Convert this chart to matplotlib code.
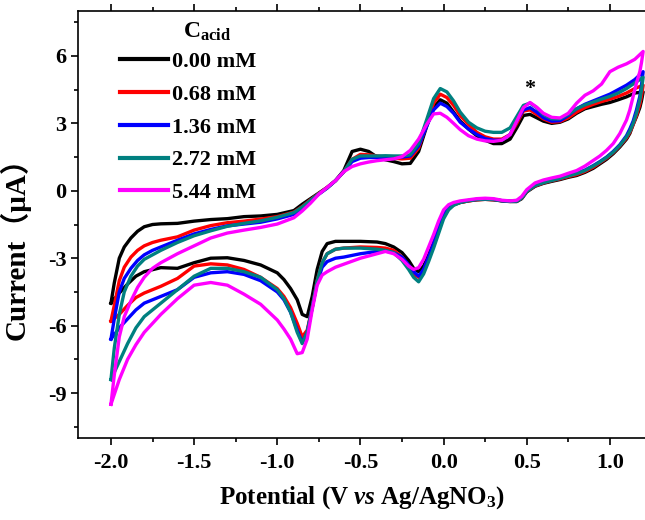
import matplotlib
matplotlib.use('Agg')
import matplotlib.pyplot as plt
from matplotlib.ticker import MultipleLocator
from matplotlib.lines import Line2D

plt.rcParams['font.family'] = ['Liberation Serif', 'DejaVu Serif']
plt.rcParams['font.weight'] = 'bold'
plt.rcParams['mathtext.fontset'] = 'custom'
plt.rcParams['mathtext.rm'] = 'Liberation Serif:bold'
plt.rcParams['mathtext.it'] = 'Liberation Serif:italic:bold'
plt.rcParams['mathtext.bf'] = 'Liberation Serif:bold'

# ---------------- data ----------------
labels = ['0.00 mM', '0.68 mM', '1.36 mM', '2.72 mM', '5.44 mM']
colors = ['#000000', '#ff0000', '#0000ff', '#008080', '#ff00ff']

# forward (anodic) sweep potentials, V
fwd_v = [-2.00, -1.98, -1.95, -1.92, -1.88, -1.84, -1.80, -1.75, -1.70, -1.60,
         -1.50, -1.40, -1.30, -1.20, -1.10, -1.00, -0.90, -0.85, -0.80, -0.75,
         -0.70, -0.65, -0.60, -0.55, -0.50, -0.45, -0.40, -0.35, -0.30, -0.25,
         -0.20, -0.15, -0.10, -0.06, -0.02, 0.02, 0.06, 0.10, 0.15, 0.20,
         0.25, 0.30, 0.35, 0.40, 0.44, 0.48, 0.52, 0.56, 0.60, 0.65,
         0.70, 0.75, 0.80, 0.85, 0.90, 0.95, 1.00, 1.05, 1.10, 1.15, 1.20]

fwd_000 = [-5.0, -4.1, -3.0, -2.5, -2.1, -1.8, -1.6, -1.5, -1.47, -1.45,
           -1.35, -1.28, -1.24, -1.15, -1.12, -1.05, -0.88, -0.6, -0.35, -0.1,
           0.15, 0.45, 0.9, 1.75, 1.85, 1.75, 1.5, 1.38, 1.3, 1.2,
           1.22, 1.75, 2.9, 3.7, 4.05, 3.9, 3.5, 3.1, 2.75, 2.45,
           2.25, 2.1, 2.1, 2.3, 2.8, 3.35, 3.4, 3.25, 3.1, 3.0,
           3.05, 3.2, 3.45, 3.65, 3.75, 3.85, 3.93, 4.05, 4.18, 4.35, 4.4]
fwd_068 = [-5.8, -5.1, -4.0, -3.4, -2.95, -2.65, -2.45, -2.3, -2.2, -2.05,
           -1.75, -1.55, -1.42, -1.35, -1.26, -1.15, -0.95, -0.7, -0.4, -0.12,
           0.15, 0.45, 0.85, 1.4, 1.62, 1.6, 1.55, 1.5, 1.45, 1.42,
           1.45, 1.9, 3.0, 3.9, 4.3, 4.15, 3.8, 3.35, 2.95, 2.6,
           2.4, 2.3, 2.3, 2.5, 3.0, 3.55, 3.6, 3.4, 3.2, 3.05,
           3.08, 3.25, 3.5, 3.7, 3.85, 3.97, 4.08, 4.2, 4.35, 4.55, 4.7]
fwd_136 = [-6.6, -5.7, -4.5, -3.9, -3.45, -3.1, -2.85, -2.65, -2.5, -2.2,
           -1.92, -1.72, -1.56, -1.48, -1.4, -1.25, -1.05, -0.8, -0.45, -0.15,
           0.12, 0.45, 0.85, 1.3, 1.45, 1.48, 1.48, 1.5, 1.5, 1.5,
           1.55, 2.0, 2.9, 3.6, 3.9, 3.75, 3.45, 3.05, 2.75, 2.5,
           2.32, 2.25, 2.25, 2.5, 3.1, 3.6, 3.7, 3.5, 3.25, 3.1,
           3.12, 3.35, 3.65, 3.85, 4.0, 4.15, 4.3, 4.5, 4.7, 4.95, 5.3]
fwd_272 = [-8.4, -7.0, -5.5, -4.5, -3.8, -3.35, -3.05, -2.85, -2.65, -2.3,
           -2.0, -1.78, -1.58, -1.45, -1.34, -1.18, -0.97, -0.72, -0.42, -0.13,
           0.13, 0.45, 0.85, 1.4, 1.55, 1.55, 1.55, 1.56, 1.55, 1.55,
           1.6, 2.1, 3.2, 4.1, 4.55, 4.4, 4.0, 3.5, 3.05, 2.8,
           2.65, 2.6, 2.6, 2.8, 3.3, 3.8, 3.9, 3.7, 3.4, 3.2,
           3.2, 3.4, 3.65, 3.82, 3.95, 4.08, 4.2, 4.35, 4.55, 4.8, 5.05]
fwd_544 = [-9.5, -8.2, -6.5, -5.6, -4.9, -4.3, -3.85, -3.45, -3.2, -2.8,
           -2.45, -2.1, -1.88, -1.75, -1.63, -1.48, -1.2, -0.9, -0.55, -0.15,
           0.15, 0.45, 0.85, 1.08, 1.2, 1.28, 1.34, 1.38, 1.42, 1.52,
           1.8, 2.3, 2.97, 3.42, 3.45, 3.27, 3.0, 2.72, 2.45, 2.3,
           2.22, 2.2, 2.25, 2.5, 3.1, 3.7, 3.93, 3.72, 3.45, 3.27,
           3.24, 3.45, 3.9, 4.25, 4.45, 4.75, 5.3, 5.5, 5.65, 5.85, 6.2]

# reverse (cathodic) sweep potentials, V
rev_v = [1.20, 1.19, 1.18, 1.16, 1.14, 1.12, 1.10, 1.06, 1.02, 0.98,
         0.94, 0.90, 0.85, 0.80, 0.75, 0.70, 0.65, 0.60, 0.55, 0.50,
         0.47, 0.44, 0.40, 0.35, 0.30, 0.25, 0.20, 0.15, 0.10, 0.06,
         0.03, 0.00, -0.03, -0.06, -0.09, -0.12, -0.15, -0.18, -0.21, -0.25,
         -0.30, -0.35, -0.40, -0.50, -0.60, -0.65, -0.70, -0.73, -0.76, -0.79,
         -0.82, -0.85, -0.88, -0.92, -0.96, -1.00, -1.10, -1.20, -1.30, -1.40,
         -1.50, -1.60, -1.70, -1.80, -1.85, -1.90, -1.95, -2.00]

rev_000 = [4.4, 4.0, 3.7, 3.3, 2.95, 2.55, 2.3, 1.95, 1.65, 1.4,
           1.2, 1.0, 0.82, 0.68, 0.6, 0.5, 0.42, 0.33, 0.2, -0.05,
           -0.35, -0.48, -0.48, -0.45, -0.4, -0.38, -0.4, -0.45, -0.52, -0.62,
           -0.8, -1.1, -1.7, -2.3, -2.85, -3.35, -3.6, -3.45, -3.1, -2.75,
           -2.5, -2.35, -2.28, -2.25, -2.25, -2.25, -2.35, -2.7, -3.5, -4.7,
           -5.6, -5.5, -4.85, -4.35, -3.95, -3.65, -3.3, -3.1, -2.98, -3.0,
           -3.2, -3.45, -3.42, -3.6, -3.8, -4.15, -4.55, -5.0]
rev_068 = [4.7, 4.2, 3.85, 3.35, 2.95, 2.6, 2.35, 2.0, 1.7, 1.45,
           1.25, 1.05, 0.86, 0.72, 0.63, 0.53, 0.45, 0.35, 0.22, -0.02,
           -0.32, -0.46, -0.47, -0.44, -0.4, -0.38, -0.4, -0.45, -0.52, -0.62,
           -0.82, -1.15, -1.8, -2.45, -3.0, -3.55, -3.85, -3.7, -3.35, -2.95,
           -2.65, -2.55, -2.52, -2.5, -2.55, -2.6, -2.8, -3.2, -4.0, -5.2,
           -6.2, -6.5, -5.9, -5.2, -4.7, -4.35, -3.85, -3.5, -3.3, -3.25,
           -3.35, -3.9, -4.25, -4.55, -4.75, -5.1, -5.5, -5.8]
rev_136 = [5.3, 4.7, 4.2, 3.6, 3.1, 2.75, 2.45, 2.05, 1.75, 1.5,
           1.3, 1.12, 0.92, 0.78, 0.68, 0.57, 0.48, 0.38, 0.25, 0.0,
           -0.3, -0.45, -0.47, -0.44, -0.38, -0.36, -0.38, -0.43, -0.5, -0.6,
           -0.78, -1.1, -1.7, -2.35, -2.95, -3.5, -3.8, -3.6, -3.3, -2.95,
           -2.75, -2.68, -2.7, -2.8, -2.95, -3.0, -3.15, -3.4, -4.1, -5.2,
           -6.3, -6.75, -6.2, -5.4, -4.85, -4.5, -4.0, -3.72, -3.6, -3.65,
           -3.85, -4.4, -4.7, -5.0, -5.3, -5.7, -6.1, -6.6]
rev_272 = [5.05, 4.5, 4.05, 3.45, 3.0, 2.65, 2.4, 2.02, 1.72, 1.48,
           1.28, 1.1, 0.9, 0.76, 0.66, 0.55, 0.46, 0.36, 0.23, -0.02,
           -0.32, -0.46, -0.47, -0.44, -0.39, -0.37, -0.39, -0.44, -0.52, -0.65,
           -0.85, -1.25, -1.9, -2.55, -3.15, -3.7, -4.05, -3.85, -3.5, -3.1,
           -2.75, -2.65, -2.6, -2.55, -2.55, -2.6, -2.8, -3.2, -4.0, -5.2,
           -6.3, -6.8, -6.3, -5.4, -4.8, -4.4, -3.85, -3.6, -3.45, -3.45,
           -3.8, -4.4, -5.0, -5.6, -6.1, -6.8, -7.6, -8.4]
rev_544 = [6.2, 5.7, 5.3, 4.8, 4.2, 3.6, 3.15, 2.55, 2.1, 1.8,
           1.55, 1.35, 1.1, 0.9, 0.78, 0.65, 0.57, 0.48, 0.35, 0.05,
           -0.25, -0.42, -0.45, -0.42, -0.35, -0.33, -0.35, -0.4, -0.45, -0.52,
           -0.62, -0.85, -1.35, -1.95, -2.5, -3.05, -3.42, -3.5, -3.35, -3.05,
           -2.8, -2.7, -2.8, -3.0, -3.27, -3.4, -3.6, -3.75, -4.2, -5.3,
           -6.6, -7.2, -7.25, -6.6, -6.15, -5.75, -5.05, -4.6, -4.2, -4.08,
           -4.2, -4.8, -5.5, -6.3, -6.85, -7.5, -8.4, -9.5]

fwd_sets = [fwd_000, fwd_068, fwd_136, fwd_272, fwd_544]
rev_sets = [rev_000, rev_068, rev_136, rev_272, rev_544]

# ---------------- figure ----------------
fig = plt.figure(figsize=(6.45, 5.2), dpi=100)
ax = fig.add_axes([77.7 / 645, 1 - 438 / 520, 569.6 / 645, 427 / 520])

for fi, ri, c in zip(fwd_sets, rev_sets, colors):
    ax.plot(fwd_v + rev_v, fi + ri, color=c, lw=2.4, solid_joinstyle='round')

ax.set_xlim(-2.2, 1.225)
ax.set_ylim(-11, 8)
ax.xaxis.set_major_locator(MultipleLocator(0.5))
ax.xaxis.set_minor_locator(MultipleLocator(0.25))
ax.yaxis.set_major_locator(MultipleLocator(3))
ax.yaxis.set_minor_locator(MultipleLocator(1.5))
ax.xaxis.set_major_formatter(matplotlib.ticker.FormatStrFormatter('%.1f'))
ax.yaxis.set_major_formatter(matplotlib.ticker.FormatStrFormatter('%d'))

for s in ax.spines.values():
    s.set_linewidth(1.2)
ax.tick_params(which='both', direction='out', width=1.2, top=True, right=False,
               labelsize=16)
ax.tick_params(which='major', length=5)
ax.tick_params(which='minor', length=3)
ax.tick_params(axis='x', which='major', pad=6)
ax.tick_params(axis='y', which='major', pad=3)
for t in ax.get_xticklabels() + ax.get_yticklabels():
    t.set_fontweight('bold')

ax.set_xlabel(r'Potential (V $\mathit{vs}$ Ag/AgNO$_3$)', fontsize=18,
              fontweight='bold', labelpad=8)
ax.set_ylabel('Current（μA）', fontsize=21, fontweight='bold',
              family=['Liberation Serif', 'Noto Sans CJK SC'])
ax.yaxis.set_label_coords(-0.082, 0.46)

handles = [Line2D([], [], color=c, lw=3) for c in colors]
leg = ax.legend(handles, labels, loc='upper left', bbox_to_anchor=(0.0743, 0.905),
                frameon=False,
                prop={'family': 'Liberation Serif', 'weight': 'bold', 'size': 16},
                handlelength=2.15, handletextpad=0.2, labelspacing=0.55,
                borderpad=0, borderaxespad=0)
fig.text(207 / 645, 1 - 32 / 520, r'C$_{\mathrm{acid}}$', fontsize=17,
         fontweight='bold', ha='center', va='center')

ax.text(0.52, 4.55, '*', fontsize=16, fontweight='bold', ha='center', va='center')

fig.savefig('out.png', dpi=100)
